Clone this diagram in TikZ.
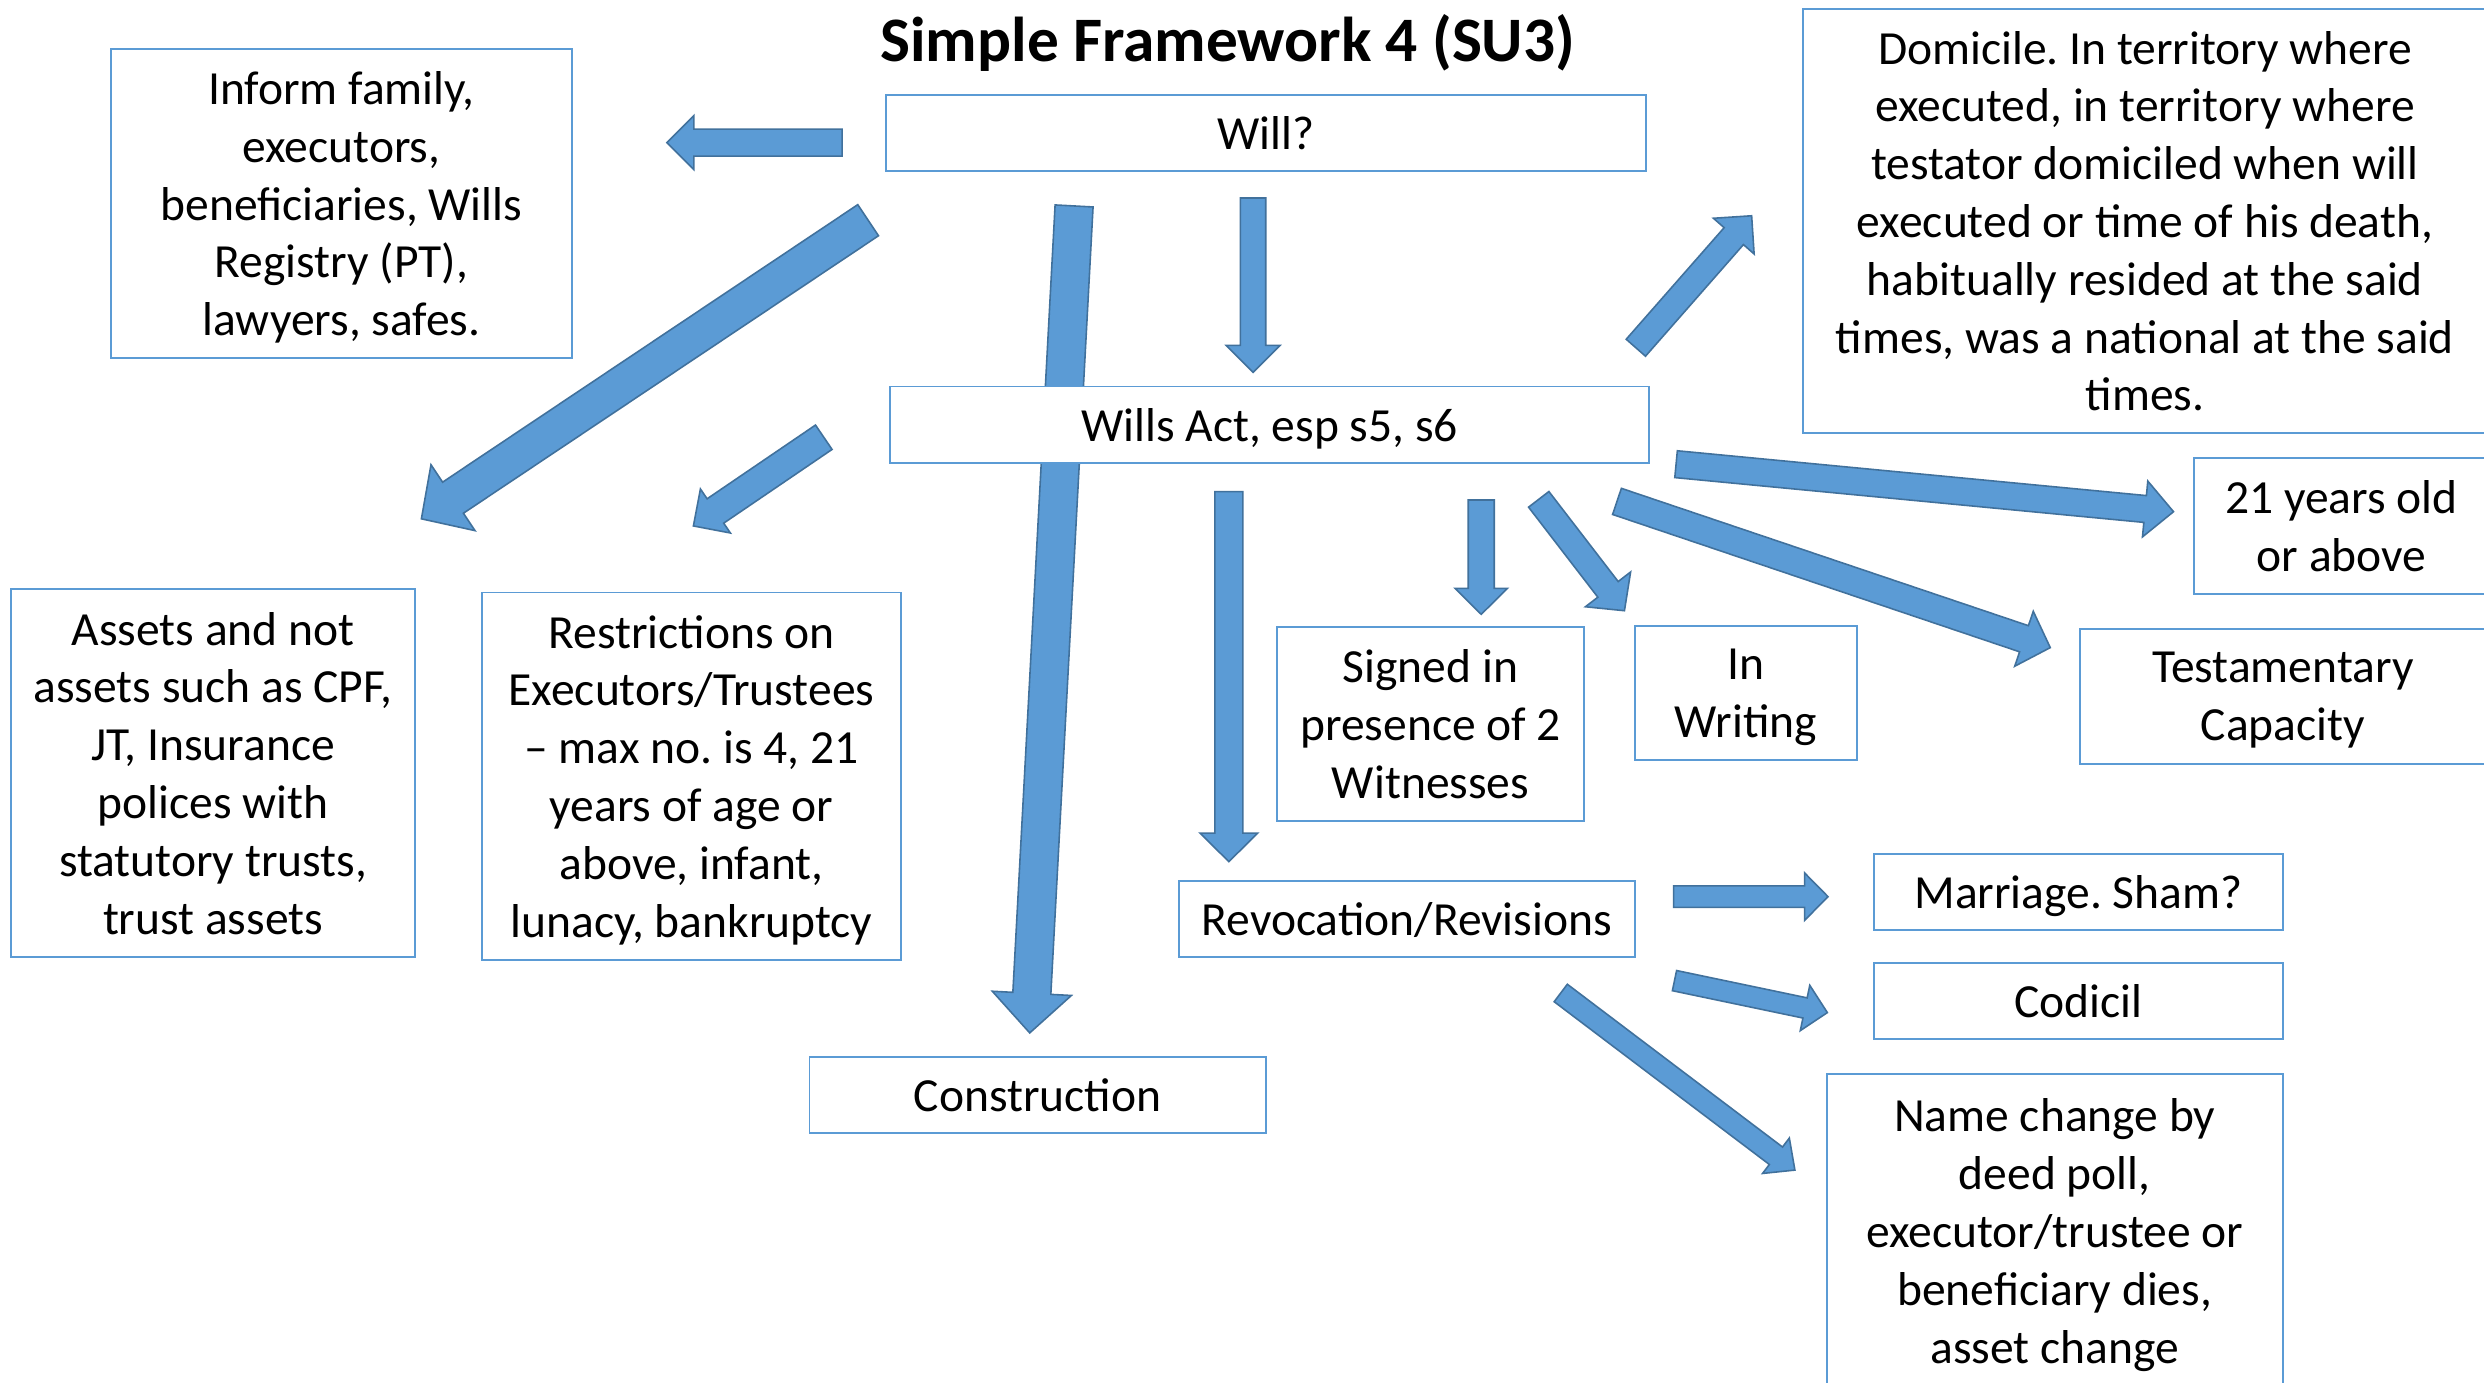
\documentclass[tikz,border=0pt]{standalone}
\usepackage{fontspec}
\setmainfont{Carlito}
\usetikzlibrary{calc}
\frenchspacing
\definecolor{arrfill}{HTML}{5B9BD5}
\definecolor{arrline}{HTML}{41719C}
\definecolor{boxline}{HTML}{5B9BD5}
\tikzset{
  barrow/.style={fill=arrfill, draw=arrline, line width=1pt, line join=miter},
  box/.style={draw=boxline, line width=1.2pt, fill=white, inner sep=0pt, align=center,
    text depth=0pt, font=\fontsize{30}{36.5}\selectfont},
  titlestyle/.style={font=\fontsize{40}{48}\selectfont\bfseries, inner sep=0pt}
}
% tail, tip, shaft half width, head half width, head length
\newcommand\blockarrow[5]{%
  \coordinate (hb) at ($(#2)!#5!(#1)$);
  \draw[barrow] ($(#1)!#3!90:(#2)$) -- ($(hb)!#3!90:(#2)$) -- ($(hb)!#4!90:(#2)$) -- (#2)
    -- ($(hb)!#4!-90:(#2)$) -- ($(hb)!#3!-90:(#2)$) -- ($(#1)!#3!-90:(#2)$) -- cycle;
}
\begin{document}
\begin{tikzpicture}[x=1pt,y=-1pt]
\useasboundingbox (0,0) rectangle (1568,873);
\clip (0,0) rectangle (1568,873);
\fill[white] (0,0) rectangle (1568,873);

% arrow end points
\coordinate (a1s) at (531.6,90);   \coordinate (a1e) at (421,90);
\coordinate (a2s) at (791,125);    \coordinate (a2e) at (791,235);
\coordinate (a3s) at (678,130);    \coordinate (a3e) at (650,652);
\coordinate (a4s) at (548,139);    \coordinate (a4e) at (266,327.5);
\coordinate (a5s) at (520,276);    \coordinate (a5e) at (437.7,332);
\coordinate (a6s) at (1032.6,219.5); \coordinate (a6e) at (1105.7,136.2);
\coordinate (a7s) at (1058,293);   \coordinate (a7e) at (1372,323);
\coordinate (a8s) at (1020.7,316.5); \coordinate (a8e) at (1294.2,408.8);
\coordinate (a9s) at (971.3,315.2); \coordinate (a9e) at (1025.4,385.5);
\coordinate (a10s) at (935,315.6); \coordinate (a10e) at (935,387.8);
\coordinate (a11s) at (775.7,310.3); \coordinate (a11e) at (775.7,543.9);
\coordinate (a12s) at (1056.4,566); \coordinate (a12e) at (1153.9,566);
\coordinate (a13s) at (1057,619); \coordinate (a13e) at (1153.5,639.2);
\coordinate (a14s) at (985.2,626.8); \coordinate (a14e) at (1133,738.6);

\blockarrow{a1s}{a1e}{8.5pt}{17pt}{17pt}
\blockarrow{a2s}{a2e}{8pt}{17pt}{17pt}
\blockarrow{a3s}{a3e}{12pt}{25pt}{25pt}
\blockarrow{a4s}{a4e}{11.8pt}{25pt}{24pt}
\blockarrow{a5s}{a5e}{9.3pt}{16.8pt}{16.8pt}
\blockarrow{a6s}{a6e}{8.1pt}{17.1pt}{17.1pt}
\blockarrow{a7s}{a7e}{8.5pt}{17.7pt}{18pt}
\blockarrow{a8s}{a8e}{8.7pt}{18.3pt}{17.5pt}
\blockarrow{a9s}{a9e}{8.1pt}{18pt}{17pt}
\blockarrow{a10s}{a10e}{8.2pt}{16.5pt}{16.4pt}
\blockarrow{a11s}{a11e}{8.8pt}{18.2pt}{18pt}
\blockarrow{a12s}{a12e}{6.8pt}{15pt}{14.8pt}
\blockarrow{a13s}{a13e}{6.5pt}{14.6pt}{14.4pt}
\blockarrow{a14s}{a14e}{6.9pt}{14pt}{15pt}

\node[titlestyle] (title) at (775,27) {Simple Framework 4 (SU3)};

\node[box, minimum width=480pt, minimum height=48pt] (will) at (799,84) {Will?};
\node[box, minimum width=479pt, minimum height=48pt] (act) at (801.5,268) {Wills Act, esp s5, s6};
\node[box, minimum width=291pt, minimum height=195pt] (inform) at (215.5,128.5)
  {Inform family,\\executors,\\beneficiaries, Wills\\Registry (PT),\\lawyers, safes.};
\node[box, minimum width=432pt, minimum height=268pt] (domicile) at (1354,139.5)
  {Domicile. In territory where\\executed, in territory where\\testator domiciled when will\\executed or time of his death,\\habitually resided at the said\\times, was a national at the said\\times.};
\node[box, minimum width=186pt, minimum height=86pt] (age) at (1478,332) {21 years old\\or above};
\node[box, minimum width=256pt, minimum height=85pt] (capacity) at (1441,439.5) {Testamentary\\Capacity};
\node[box, minimum width=140pt, minimum height=85pt] (writing) at (1102,437.5) {In\\Writing};
\node[box, minimum width=194pt, minimum height=122pt] (signed) at (903,457) {Signed in\\presence of 2\\Witnesses};
\node[box, minimum width=255pt, minimum height=232pt] (assets) at (134.5,488)
  {Assets and not\\assets such as CPF,\\JT, Insurance\\polices with\\statutory trusts,\\trust assets};
\node[box, minimum width=265pt, minimum height=232pt] (restrict) at (436.5,490)
  {Restrictions on\\Executors/Trustees\\– max no. is 4, 21\\years of age or\\above, infant,\\lunacy, bankruptcy};
\node[box, minimum width=288pt, minimum height=48pt] (revoc) at (888,580) {Revocation/Revisions};
\node[box, minimum width=258pt, minimum height=48pt] (marriage) at (1312,563) {Marriage. Sham?};
\node[box, minimum width=258pt, minimum height=48pt] (codicil) at (1312,632) {Codicil};
\node[box, minimum width=288pt, minimum height=198pt] (namechange) at (1297,777)
  {Name change by\\deed poll,\\executor/trustee or\\beneficiary dies,\\asset change};
\node[box, minimum width=288pt, minimum height=48pt] (construction) at (655,691) {Construction};
\end{tikzpicture}
\end{document}
